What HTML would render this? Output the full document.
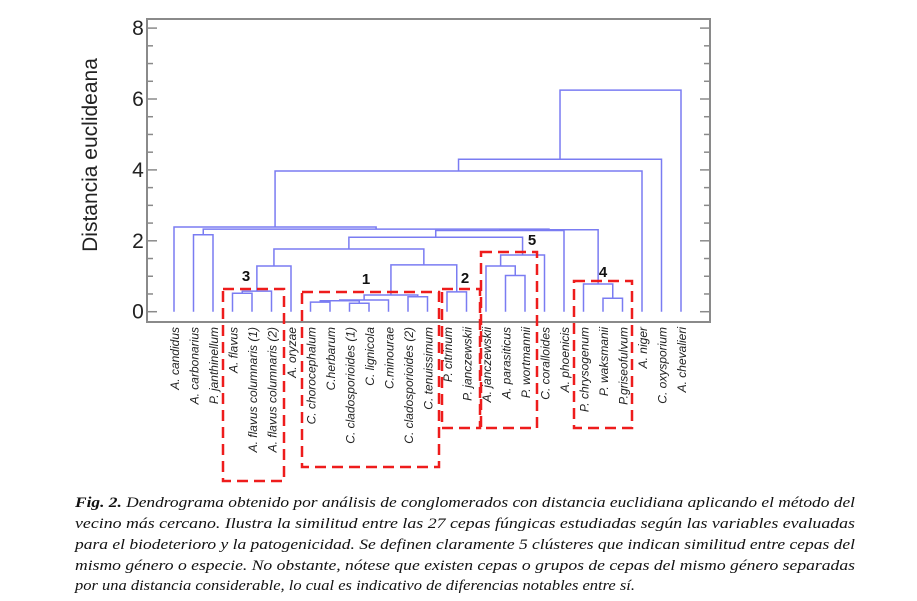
<!DOCTYPE html>
<html><head><meta charset="utf-8"><style>
html,body{margin:0;padding:0;background:#fff;}
svg{display:block;}
</style></head><body>
<svg id="chart" width="917" height="601" viewBox="0 0 917 601" xmlns="http://www.w3.org/2000/svg">
<rect x="147" y="19" width="563" height="303" fill="none" stroke="#8a8a8a" stroke-width="2"/>
<g id="axis"></g>
<g id="links"></g>
<g id="leaves"></g>
<g id="boxes"></g>
<text transform="translate(97,155) rotate(-90)" text-anchor="middle" font-family="Liberation Sans, sans-serif" font-size="21" fill="#222">Distancia euclideana</text>
<g font-family="Liberation Serif, serif" font-style="italic" font-size="15" fill="#111">
<text x="75" y="507" textLength="780" lengthAdjust="spacingAndGlyphs"><tspan font-weight="bold">Fig. 2.</tspan> Dendrograma obtenido por análisis de conglomerados con distancia euclidiana aplicando el método del</text>
<text x="75" y="528" textLength="780" lengthAdjust="spacingAndGlyphs">vecino más cercano. Ilustra la similitud entre las 27 cepas fúngicas estudiadas según las variables evaluadas</text>
<text x="75" y="549" textLength="780" lengthAdjust="spacingAndGlyphs">para el biodeterioro y la patogenicidad. Se definen claramente 5 clústeres que indican similitud entre cepas del</text>
<text x="75" y="570" textLength="780" lengthAdjust="spacingAndGlyphs">mismo género o especie. No obstante, nótese que existen cepas o grupos de cepas del mismo género separadas</text>
<text x="75" y="590" textLength="560" lengthAdjust="spacingAndGlyphs">por una distancia considerable, lo cual es indicativo de diferencias notables entre sí.</text>
</g>
</svg>
<script>
const leafNames = ["A. candidus","A. carbonarius","P. janthinellum","A. flavus","A. flavus  columnaris  (1)","A. flavus  columnaris  (2)","A. oryzae","C. chorocephalum","C.herbarum","C. cladosporioides (1)","C. lignicola","C.minourae","C. cladosporioides (2)","C. tenuissimum","P. citrinum","P. janczewskii","A. janczewskii","A. parasiticus","P. wortmannii","C. coralloides","A. phoenicis","P. chrysogenum","P. waksmanii","P.griseofulvum","A. niger","C. oxysporium","A. chevalieri"];
// merge pairs: ids < 27 are leaves, >= 27 refer to merge (id - 27)
const mergePairs = [[3,4],[27,5],[28,6],[7,8],[9,10],[30,31],[32,11],[12,13],[33,34],[14,15],[35,36],[29,37],[17,18],[16,39],[40,19],[38,41],[22,23],[21,43],[42,20],[45,44],[1,2],[47,46],[0,48],[49,24],[50,25],[51,26]];
const mergeHeight = [0.52, 0.58, 1.29, 0.27, 0.24, 0.31, 0.33, 0.42, 0.47, 0.56, 1.32, 1.77, 1.02, 1.29, 1.60, 2.10, 0.38, 0.78, 2.29, 2.31, 2.17, 2.33, 2.39, 3.97, 4.30, 6.25];
const yTicks = [0, 2, 4, 6, 8];
const clusterLabels = ["3","1","2","5","4"];
</script>
<script>
const NS = "http://www.w3.org/2000/svg";
const x0 = 174, dx = 19.5;
const xS = i => x0 + i * dx;
const yS = v => 311.7 - v * 35.45;
function mk(tag, attrs, parent){ const e=document.createElementNS(NS,tag); for(const k in attrs) e.setAttribute(k,attrs[k]); parent.appendChild(e); return e; }

const nodeX = {}, nodeH = {};
for (let i=0;i<leafNames.length;i++){ nodeX[i]=xS(i); nodeH[i]=0; }
const links = document.getElementById('links');
for (let m=0;m<mergeHeight.length;m++){
  const a = mergePairs[m][0], b = mergePairs[m][1], h = mergeHeight[m];
  const xa = nodeX[a], xb = nodeX[b];
  const p = mk('path',{d:`M${xa},${yS(nodeH[a])}V${yS(h)}H${xb}V${yS(nodeH[b])}`,fill:'none',stroke:'#7a7cf2','stroke-width':1.5},links);
  
  
  nodeX[27+m]=(xa+xb)/2; nodeH[27+m]=h;
}

const ax = document.getElementById('axis');
for (let v=0; v<=8.001; v+=0.5){
  const major = Math.abs(v-Math.round(v/2)*2)<1e-6;
  const len = major?10:6, y=yS(v);
  let t=mk('line',{x1:147,x2:147+len,y1:y,y2:y,stroke:'#8a8a8a','stroke-width':1.5},ax);
  
  
  t=mk('line',{x1:710,x2:710-len,y1:y,y2:y,stroke:'#8a8a8a','stroke-width':1.5},ax);
  
  
}
yTicks.forEach(v=>{
  const t=mk('text',{x:138,y:yS(v)+7,'text-anchor':'middle','font-family':'Liberation Sans, sans-serif','font-size':21,fill:'#222'},ax);
  t.textContent=v;
  
  
});

const lv = document.getElementById('leaves');
leafNames.forEach((n,i)=>{
  const t=mk('text',{transform:`translate(${xS(i)+5},327) rotate(-90)`,'text-anchor':'end','font-family':'Liberation Sans, sans-serif','font-style':'italic','font-size':12,fill:'#222'},lv);
  t.textContent=n;
  
  
});

const bx = document.getElementById('boxes');
const boxes = [[223,289,284,481,246,281],[302,292,439,467,366,284],[442,289,480,428,465,283],[481,252,537,428,532,245],[574,281,632,428,603,277]];
boxes.forEach((b,i)=>{
  const r=mk('rect',{x:b[0],y:b[1],width:b[2]-b[0],height:b[3]-b[1],fill:'none',stroke:'#ee1c1c','stroke-width':2.5,'stroke-dasharray':'11 6'},bx);
  
  
  const t=mk('text',{x:b[4],y:b[5],'text-anchor':'middle','font-family':'Liberation Sans, sans-serif','font-weight':'bold','font-size':15,fill:'#111'},bx);
  t.textContent=clusterLabels[i];
  
  
});
</script>
</body></html>
